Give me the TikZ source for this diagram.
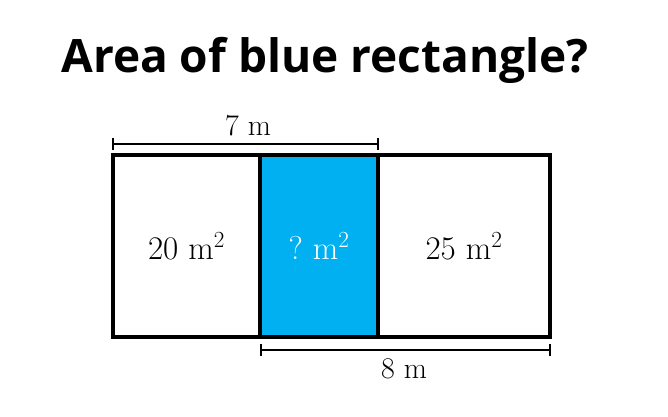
\RequirePackage{fix-cm}
\documentclass[tikz,border=0pt]{standalone}
\usepackage{fontspec}
\usepackage{amsmath}
\newfontfamily\titlefont{Open Sans}
\usetikzlibrary{positioning}
\definecolor{rectblue}{RGB}{0,176,240}

\begin{document}
\begin{tikzpicture}[x=1pt,y=1pt,
  cell/.style={draw,line width=4pt,minimum height=182pt,inner sep=0pt,font=\fontsize{33}{38}\selectfont},
  dimline/.style={line width=1.6pt},
  dimlabel/.style={font=\fontsize{30}{35}\selectfont}]
\useasboundingbox (0,0) rectangle (668,416);
\node[font=\titlefont\bfseries\fontsize{46}{54}\selectfont] (title) at (325,356) {Area of blue rectangle?};

\node[cell,minimum width=147pt] (left) at (186.5,170) {$20\ \mathrm{m}^2$};
\node[cell,minimum width=172pt] (right) at (464,170) {$25\ \mathrm{m}^2$};
\node[cell,minimum width=118pt,fill=rectblue,text=white] (mid) at (319,170) {$?\ \mathrm{m}^2$};

% top dimension
\coordinate (t1) at (113,272);
\coordinate (t2) at (378,272);
\draw[dimline] (t1) -- (t2);
\draw[dimline] ([yshift=-6pt]t1) -- ([yshift=6pt]t1);
\draw[dimline] ([yshift=-6pt]t2) -- ([yshift=6pt]t2);
\node[dimlabel] (seven) at (248,290) {$7\ \mathrm{m}$};

% bottom dimension
\coordinate (b1) at (261,66);
\coordinate (b2) at (550,66);
\draw[dimline] (b1) -- (b2);
\draw[dimline] ([yshift=-6pt]b1) -- ([yshift=6pt]b1);
\draw[dimline] ([yshift=-6pt]b2) -- ([yshift=6pt]b2);
\node[dimlabel] (eight) at (404,47) {$8\ \mathrm{m}$};

\end{tikzpicture}
\end{document}
